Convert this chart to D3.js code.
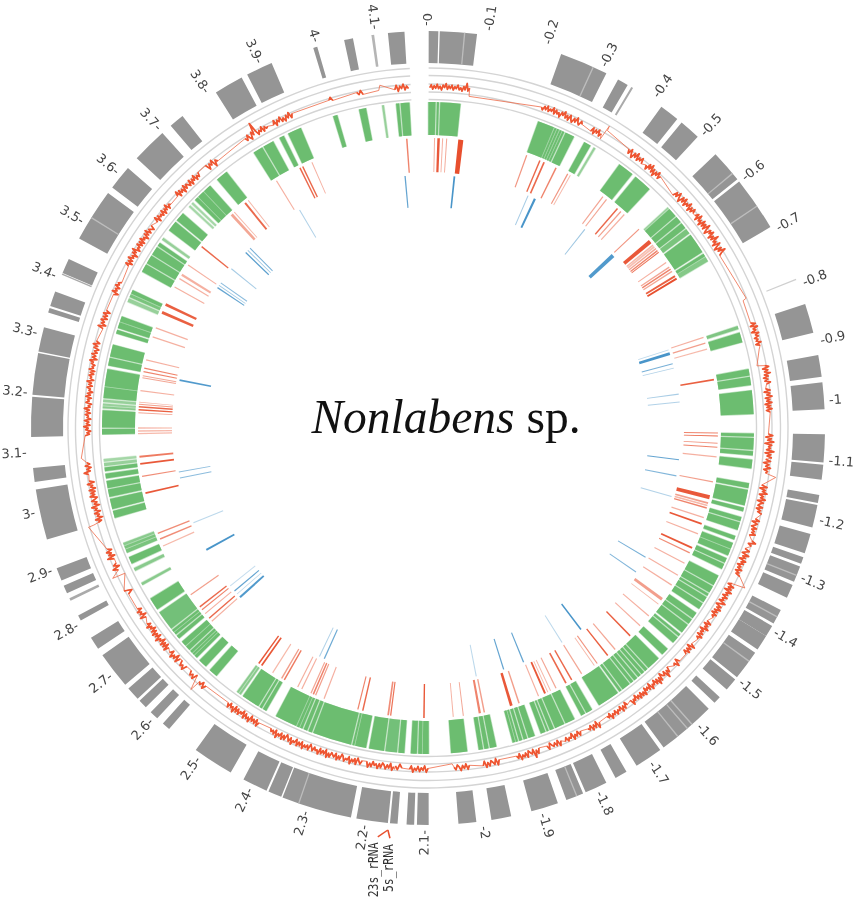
<!DOCTYPE html>
<html>
<head>
<meta charset="utf-8">
<title>Nonlabens sp.</title>
<script src="https://cdn.jsdelivr.net/npm/d3@7"></script>
<style>
  html, body { margin: 0; background: #fff; }
  svg { display: block; }
</style>
</head>
<body>
<svg id="chart" width="856" height="901"></svg>
<script>
// tick labels, position in Mb
const tickValues = d3.range(0, 42).map((d) => d / 10);
const genomeMb = 4.187;

const contigs = [[0.1,1.5],[1.7,7.1],[19.6,26.7],[28.6,30.2],[30.8,31.1,.8],[36,38.9],[39.7,42.8],[46.4,51.2],[51.6,59.6],
  [67.9,68.1,.45],[71.8,76.1],[79.4,82.6],[83.4,87.3],[90.9,95],[95.3,97.5],[99.7,100.9],[101.2,104.5],[105.5,108.4],
  [109,110],[110.4,112.8],[113.3,115.3],[117.3,119.5],[119.9,121.6],[121.6,123.9],[124.5,128.9],[129.3,131.2],
  [132.7,133.8],[135,143.6],[144.2,148.3],[150,151.8],[153.3,156.6],[157,159.6],[160.9,164.9],[167.9,170.8],
  [173,175.6],[179.9,181.6],[182,183.1],[184.4,185.5],[185.8,190.4],[191.2,201.5],[201.7,203.7],[204,207.7],
  [209.8,215.8],[220.7,221.9],[223,224.3],[225.3,226.6],[227,229],[229.7,235.1],[236.2,238.1],[241,241.8],
  [244.2,244.6,.8],[245.4,246.6],[247.4,249.3],[253.7,261.1],[262.2,264.2],[268.7,274.5],[274.8,280.9],[281.1,284.7],
  [286.9,287.6],[287.9,290.1],[292.7,292.9,.8],[293,295.2],[298.5,306.3],[307.3,310.9],[312.8,318],[319.6,321.8],
  [327.7,332],[332.9,336.8],[343.2,343.8],[347.8,349.1],[351.8,352.2,.7],[354.2,356.6]];
const contigHairlines = [5.3,24.6,50.1,56,118.4,111.8,126,138.3,139.2,141,158,199,302];

const genes = [[0.1,1.3],[1.6,1.9],[2.2,5.7],[19.8,22.7],[22.9,23.2],[23.4,23.7],[23.9,24.2],[24.4,24.7],[25,26.6],
  [28.7,29.9],[30.6,30.9,.6],[36,38.8],[39.6,42.8],[47.4,47.6,.6],[47.8,49.4],[49.7,50.8],[51.1,52.1],[52.4,53.3,.85],
  [53.7,57.3],[57.7,58.2],[58.4,59.2,.75],[71.8,72.3,.8],[73,74.7],[79.6,80.7],[81,82.4],[83.4,87.5],[91,91.5],
  [91.8,93.8],[94.1,94.8],[95.6,97.1],[99.8,100.6],[101,103.7],[104.2,104.8],[105.9,106.6],[106.9,108.2],[109.4,110],
  [110.7,111.7],[111.9,113],[113.6,114.4],[114.7,115.6],[117,118.8],[119.1,120.3],[120.6,121],[121.3,122.3],[122.6,123.7],
  [124.6,125.7],[126,126.9],[127.2,128.8],[129.3,129.7],[130,131.2],[132.7,134],[135,137.4],[137.7,138.2],[138.5,139],
  [139.3,139.8],[140.1,140.7],[141,141.5],[141.8,143.3],[143.6,144],[144.4,148.3],[149.8,150.9],[151.2,151.9],
  [153.3,155],[155.3,157],[157.3,158],[158.3,158.6],[158.9,159.7],[160.9,162],[162.3,162.9],[163.2,163.7],[164,164.3],
  [164.5,164.9],[167.9,169],[169.3,170],[170.3,171],[173.1,175.9],[179.9,180.9],[181.1,181.7],[182,183],[184.2,185.2],
  [185.5,187.5,.9],[187.8,190.4],[191,192.9],[193.1,193.4],[193.7,200.6],[200.9,201.5],[201.8,202.4],[202.7,203.1],
  [203.3,203.7],[203.9,207.8],[209.8,210.4],[210.7,211.1],[211.4,214.6],[215.1,215.4,.7],[215.6,215.9,.7],[220.5,222],
  [223,224.5],[225.2,225.7],[225.9,226.2],[226.4,226.8],[227.1,227.9],[228.1,229],[229.8,230.4],[230.7,231.1],[231.3,231.7],
  [232,235.5,.9],[236.2,238.4],[241.2,241.6,.7],[244,244.5,.7],[245.4,246.6],[247.5,248.1,.85],[248.3,248.7,.85],
  [248.9,249.3,.7],[254,255.2],[255.6,257.4],[257.8,259.1],[259.4,260.6],[261.1,261.9],[262.4,263],[263.3,263.8,.6],
  [264.1,264.5,.5],[268.9,269.8],[270.1,273.1],[273.5,273.8,.7],[274,274.3,.6],[274.6,275,.6],[275.3,277.2],[277.4,280.4],
  [281.1,282.4],[282.7,284.8],[286.9,287.5],[287.9,288.9],[289.1,290],[292.8,293.4,.6],[293.7,294.2,.85],[294.4,295],
  [298.7,300.1],[300.4,301.9],[302.2,303.7],[304,304.6],[305.3,305.7,.6],[307.4,309.2],[309.6,311.2],[312.8,313.1,.5],
  [313.5,313.8,.5],[314.4,315],[315.2,316.4],[316.6,318],[319.7,321.8],[327.7,329.4],[329.7,331.6],[332.9,333.7],
  [334.6,337],[343.1,343.8],[347.8,349],[351.9,352.2,.6],[354.4,354.9],[355.2,356.7]];

// position, width, tone
const redMarks = [[1.3,.2,.45],[2.1,.5,.95],[2.9,.2,.45],[3.7,.2,.5],[6.5,1,1],[19.9,.25,.6],[22.7,.3,.85],[23.6,.35,.85],
  [26.2,.3,.7],[28.8,.25,.6],[29.4,.2,.4],[37.1,.25,.5],[38,.25,.5],[40.8,.3,.85],[41.7,.25,.55],[42.6,.25,.45],[46.7,.25,.6],
  [50,.8,.95],[50.9,.3,.4],[51.3,.4,.35],[51.8,.3,.5],[52.3,.3,.7],[52.7,.2,.8],[55.2,.25,.45],[56.3,.3,.5],[56.8,.3,.7],
  [57.3,.3,.5],[58.4,.4,.9],[59,.4,1],[71.8,.25,.45],[73,.25,.55],[74.2,.25,.4],[80.4,.35,.9],[91,.2,.7],[91.6,.2,.85],
  [93,.2,.6],[93.8,.2,.7],[95.7,.25,.45],[100.7,.25,.55],[103.8,.8,.95],[105,.35,.55],[105.5,.35,.4],[106,.3,.7],[108,.25,.45],
  [109.3,.35,.95],[111.4,.25,.45],[114.4,.4,.95],[115.5,.25,.65],[117.8,.25,.45],[120.5,.25,.45],[122.8,.25,.45],
  [126.2,.6,.55],[127.4,.2,.4],[130.4,.25,.45],[133,.25,.45],[135.8,.3,.9],[139.8,.25,.5],[141.7,.3,.9],[144.3,.25,.6],
  [145,.2,.4],[148,.25,.5],[150.3,.3,.85],[151.6,.35,.85],[153.8,.25,.5],[155,.2,.4],[155.6,.2,.4],[156.2,.4,.95],
  [157.6,.25,.45],[161.7,.3,.55],[163.3,.55,.95],[168.8,.3,.55],[169.7,.45,.7],[173,.2,.5],[175,.2,.45],[180.8,.3,.95],
  [187.4,.25,.8],[187.9,.35,.65],[193,.3,.85],[194,.25,.7],[201,.25,.45],[202.8,.25,.55],[203.3,.3,.7],[203.8,.25,.5],
  [205.8,.25,.45],[206.7,.25,.45],[209.7,.3,.75],[210.3,.3,.55],[212.4,.25,.4],[215,.35,.95],[215.7,.3,.95],[228.2,.25,.45],
  [229,.3,.85],[230.2,.25,.45],[231.2,.25,.7],[231.9,.3,.85],[234.9,.25,.55],[246,.25,.4],[247.5,.3,.65],[248.7,.3,.65],
  [257,.35,.95],[260.4,.25,.65],[262.9,.35,.95],[264.3,.4,.75],[268.9,.25,.4],[269.4,.3,.4],[270,.25,.4],[273,.2,.5],
  [273.6,.3,.9],[274.2,.3,.85],[274.7,.2,.55],[275.1,.15,.45],[277.4,.25,.45],[280,.2,.5],[280.4,.2,.5],[281.2,.25,.7],
  [281.9,.25,.7],[283.6,.25,.45],[288.3,.25,.45],[290.2,.25,.45],[293.5,.55,.9],[295.2,.55,.9],[299.1,.25,.45],[301,.25,.45],
  [301.9,.45,.45],[304.2,.25,.45],[308.7,.3,.85],[317.4,.55,.5],[318.1,.2,.4],[320.9,.4,.85],[321.7,.2,.4],[328.5,.25,.45],
  [333.8,.3,.85],[334.4,.3,.85],[336.4,.2,.45],[355.8,.3,.7]];

const blueMarks = [[6,.4,.95],[23.3,.25,.45],[25,.5,.95],[38.3,.25,.5],[47,.9,.9],[72,.2,.35],[72.9,.65,.95],[75.3,.25,.7],
  [76.3,.2,.4],[82.3,.25,.45],[84.1,.25,.4],[97.2,.25,.8],[100.9,.25,.65],[105.7,.25,.4],[120.7,.25,.7],[124.7,.25,.65],
  [142.8,.35,.95],[148,.25,.35],[157.8,.3,.8],[162.6,.3,.8],[169,.25,.35],[204.2,.3,.75],[205.4,.25,.4],[228,.5,.9],
  [229,.2,.35],[229.9,.3,.8],[231.4,.25,.3],[241.2,.45,.95],[248,.25,.35],[258.6,.25,.6],[260,.25,.6],[280.9,.4,.9],
  [303.7,.3,.8],[304.3,.2,.5],[305,.25,.6],[309,.25,.45],[313.9,.3,.85],[314.6,.2,.5],[315.3,.25,.7],[329.5,.25,.4],[354.8,.3,.8]];

// coverage trace: one range and one list of read values per stretch
const traceRanges = [[0.3,7],[7.05,7.05],[19.5,26.9],[28.7,30.5],[30.8,30.9],[31,31.1],[35.8,38.9],[39.7,42.8],[46.4,51],[51.5,59.4],
  [67.8,68],[72,76],[76.6,76.6],[79.3,79.3],[79.5,82.6],[83.4,87.3],[91,95],[95.3,97.6],[98.1,98.1],[99.7,104.5],[105.5,108.4],
  [109.2,110.1],[110.8,115.5],[116.8,116.8],[117.1,123.6],[124.6,128],[129.3,131.2],[132.8,134],[135,143.4],[144.2,148.2],
  [149.8,152],[153.3,156.3],[157,159.5],[160.9,164.9],[167.9,170.7],[173,175.6],[175.9,175.9],[180,183.1],[184.4,185.5],[185.6,185.6],
  [185.8,190.4],[191.2,207.6],[209.8,216],[220.7,222],[222.2,222.2],[223,224.3],[225.3,226.6],[227,229],[229.7,235.1],[236.2,238.1],
  [241,241.8],[244.4,244.4],[244.5,244.5],[245.4,246.6],[247.4,249.3],[253.7,253.8],[254,261.1],[262.2,264.2],[265,265],
  [268.7,280.9],[281.1,284.7],[287,290.1],[293,295.4],[298.4,306.2],[307.3,311],[312.8,318],[319.7,321.8],[327.7,332],
  [333,336.6],[343.2,343.8],[348,349],[351.7,352],[354.4,356.7]];
const traceValues = [
  [38,47,33,44,36,49,35,43,31,47,39,52,34,45,37,48,33,44,38,50,35,42,32,47,37,58,34,44],[18],
  [38,30,44,34,48,32,42,36,50,31,46,35,41,28,47,38,52,33,44,30,49,36,29,45,34,51,37,31,46,38],
  [32,46,28,44,35,49,30,41],[26],[75,60],
  [48,36,54,40,30,50,38,56,34,47,39,52,35],[42,30,52,38,56,34,48,28,46,37,52,33,44],
  [30,46,34,52,38,28,50,36,54,32,46,39,55,31,48,36,52,40],
  [40,52,32,56,38,46,30,54,36,50,34,58,40,30,52,42,56,32,48,36,60,38,46,30,54,40,28,50,36,58,42,33],
  [48,36],
  [34,48,30,52,36,44,28,50,38,46,32,42,35,49,31,44],[38],[20],[44,56,36,52,40,58,38,50,34,47,37,54,41],
  [36,50,30,48,38,54,32,46,36,52,30,47,35,51,33,45],
  [38,52,30,48,36,56,28,50,40,46,34,58,30,49,37,53],[34,50,28,46,36,52,31,44,38],[72],
  [32,50,28,46,38,54,30,44,36,52,28,48,38,33,49,30,45,37,51],[36,50,28,46,40,30,48,34,44,37,50,32],[46,60,38,50],
  [34,50,40,30,54,36,46,28,52,38,48,30,44,35,51,32,46,38,54],[84],
  [42,30,52,36,48,28,54,38,46,32,50,36,44,30,54,40,28,48,36,52,33,46,30,49,37,44],
  [34,50,30,46,38,54,28,44,36,48,32,52,37,45],[38,54,30,48,36,51,33,46],[46,32,54,38,44],
  [30,46,36,58,32,44,40,28,50,36,56,34,48,30,44,38,52,28,46,34,42,30,52,38,48,33,50,36,46,29,44,37,53,34],
  [40,28,46,34,50,30,42,36,48,32,44,37,51,30,43,35],[38,54,30,48,36,51,33,45,39],[34,46,30,44,36,50,28,42,37,47,33,44],
  [36,50,30,46,34,44,38,29,48,35],
  [32,48,36,58,30,44,38,30,50,34,46,38,52,31,45,36],[34,50,28,46,38,32,48,36,51,30,44],[36,48,30,44,34,50,38,31,46,37],[26],
  [38,50,30,44,36,48,32,45,38,51,31,42],[40,28,46,35],[46],
  [38,50,28,44,34,48,36,30,46,34,50,36,42,30,47,37,51,33],
  [34,46,38,28,50,32,44,36,52,30,42,38,48,34,28,46,36,50,30,44,38,32,48,36,52,28,44,34,46,30,50,38,42,32,46,36,28,48,34,44,
   37,51,30,45,35,49,29,43,38,52,32,46,36,28,47,34,50,31,44,37,53,30,46,35,42,33],
  [36,50,30,46,34,44,28,52,38,46,32,50,28,42,36,49,33,47,30,53,37,44,31,48,35],[38,52,34,47,40],[78],
  [30,50,38,46,33],[34,52,40,47,31],[32,50,28,46,38,52,31,44],[36,52,30,48,34,50,28,44,38,54,30,46,36,51,33,47,29,44,37,52,34,45],
  [34,52,28,46,38,50,32,44],
  [44,28,52],[24],[66],[38,54,30,47,36],[36,56,30,48,38,52,33,46],[80,62],
  [46,34,52,28,44,36,50,30,46,38,54,28,44,34,50,38,30,52,36,47,33,51,30,44,37,53,31,46],[44,58,38,48,34,52,37,46],[62],
  [46,32,40,28,44,36,50,30,42,34,48,28,40,36,46,30,44,34,50,32,38,28,46,36,42,30,48,34,44,28,40,36,47,31,43,35,50,29,41,37,
   46,32,44,30,49,36,41,33,47],
  [38,52,30,46,36,50,34,44,31,48,37,53,33,45],[36,54,30,46,38,51,32,47,35,50,30,44],[42,28,50,36,44,31,48,37,43,33],
  [38,50,30,46,34,52,36,44,28,48,38,54,30,42,36,50,33,47,31,51,37,44,29,48,35,52,33,45,38,31,46],
  [36,52,30,48,38,44,34,50,31,46,37,53,33,45,39],[40,54,32,50,38,46,30,52,36,48,42,34,51,31,47,38,53,33,45,36,49],
  [50,30,46,38,52,26,44,36],
  [44,34,50,38,30,52,40,78,46,32,44,37,51,33,46,38,42],[36,50,30,46,38,52,34,44,31,48,37,53,33,45],[44,52,40],[46,38,50,36],[40,56],
  [36,50,30,46,38,52,33,45,37]
];

const trackTitle = "Nonlabens";
const rRnaLabels = ["23s_rRNA", "5s_rRNA"];
const rRnaGene = [185.7, 185.7];
const rRnaAnchor = [187, 185.3];
const rRnaText = [187.5, 185.5];

// ---- drawing
const svg = d3.select("#chart");
const root = svg.append("g").attr("transform", "translate(428,428)");

const rad = d3.scaleLinear().domain([0, 360]).range([0, 2 * Math.PI]);
const tickDeg = d3.scaleLinear().domain([0, genomeMb]).range([0, 360]);
const traceR = d3.scaleLinear().domain([0, 100]).range([328.5, 360]);

const arc = d3.arc();
const wedge = (r0, r1, a0, a1) => arc({
  innerRadius: r0, outerRadius: r1, startAngle: rad(a0), endAngle: rad(a1)
});

const defs = root.append("defs");
defs.append("filter").attr("id", "soft").append("feGaussianBlur").attr("stdDeviation", 0.4);
defs.append("filter").attr("id", "softer").append("feGaussianBlur").attr("stdDeviation", 0.25);
const marks = root.append("g").attr("filter", "url(#soft)");

// rings
marks.append("g").selectAll("path").data([360, 352.5, 344, 336, 328.5]).join("path")
  .attr("d", (r) => wedge(r - 0.7, r + 0.7, 0.1, 357.1))
  .attr("fill", "#d4d4d4");

// contigs
marks.append("g").selectAll("path").data(contigs).join("path")
  .attr("d", (d) => wedge(365, 397, d[0], d[1]))
  .attr("fill", "#959595")
  .attr("opacity", (d) => d[2] || 1);
marks.append("g").selectAll("path").data(contigHairlines).join("path")
  .attr("d", (d) => wedge(365, 397, d - 0.1, d + 0.1))
  .attr("fill", "#bdbdbd");

// trace: thin links between stretches, heavier over the noisy stretches
const tracePoints = [];
const stretches = [];
traceRanges.forEach((range, i) => {
  const vals = traceValues[i];
  const at = d3.scaleLinear().domain([0, Math.max(1, vals.length - 1)]).range(range);
  const pts = vals.map((v, j) => [rad(at(j)), traceR(v)]);
  tracePoints.push(...pts);
  if (pts.length > 2) stretches.push(pts);
});
const radial = d3.lineRadial();
marks.append("path")
  .attr("d", radial(tracePoints))
  .attr("fill", "none")
  .attr("stroke", "#ee6a48")
  .attr("stroke-width", 0.8)
  .attr("stroke-linejoin", "round");
marks.append("g").selectAll("path").data(stretches).join("path")
  .attr("d", (d) => radial(d))
  .attr("fill", "none")
  .attr("stroke", "#ee5530")
  .attr("stroke-width", 1.7)
  .attr("stroke-linejoin", "round");

// genes: a pale wash under each block turns the thin gaps into the pale hairlines of the picture
marks.append("g").selectAll("path").data(genes).join("path")
  .attr("d", (d) => wedge(293, 326, d[0] - 0.15, d[1] + 0.15))
  .attr("fill", "#6cbd70")
  .attr("opacity", (d) => (d[2] || 1) * 0.45);
marks.append("g").selectAll("path").data(genes).join("path")
  .attr("d", (d) => wedge(293, 326, d[0] - 0.03, d[1] + 0.03))
  .attr("fill", "#6cbd70")
  .attr("opacity", (d) => d[2] || 1);

// red and blue tracks
marks.append("g").selectAll("path").data(redMarks).join("path")
  .attr("d", (d) => wedge(256, 290, d[0] - d[1] / 2, d[0] + d[1] / 2))
  .attr("fill", "#e8502e")
  .attr("opacity", (d) => d[2]);
marks.append("g").selectAll("path").data(blueMarks).join("path")
  .attr("d", (d) => wedge(221, 253, d[0] - d[1] / 2, d[0] + d[1] / 2))
  .attr("fill", "#3f8fc6")
  .attr("opacity", (d) => d[2]);

// tick labels
root.append("g").attr("filter", "url(#softer)")
  .selectAll("text").data(tickValues).join("text")
  .attr("transform", (v) => {
    const a = v === 0 ? 360 : tickDeg(v);
    return a < 180
      ? `rotate(${a - 90}) translate(402,0)`
      : `rotate(${a - 90}) translate(402,0) rotate(180)`;
  })
  .attr("text-anchor", (v) => (v > 0 && tickDeg(v) < 180 ? "start" : "end"))
  .attr("dy", "0.35em")
  .attr("font-family", "DejaVu Sans, sans-serif")
  .attr("font-size", 13)
  .attr("fill", "#444")
  .text((v) => (v > 0 && tickDeg(v) < 180 ? "-" + v : v + "-"));

// rRNA connectors and labels
const polar = (deg, r) => d3.pointRadial(rad(deg), r);
rRnaLabels.forEach((name, i) => {
  root.append("path")
    .attr("d", d3.line()([polar(rRnaGene[i], 404), polar(rRnaAnchor[i], 412)]))
    .attr("fill", "none").attr("stroke", "#e8502e").attr("stroke-width", 1.5);
  const [x, y] = polar(rRnaText[i], 418);
  root.append("text")
    .attr("transform", `translate(${x},${y}) rotate(-90) scale(1,1.2)`)
    .attr("text-anchor", "end").attr("dy", "0.35em")
    .attr("font-family", "DejaVu Sans Mono, monospace")
    .attr("font-size", 11.4).attr("fill", "#333")
    .text(name);
});

// title
const title = svg.append("text")
  .attr("x", 446).attr("y", 433).attr("text-anchor", "middle")
  .attr("font-family", "Liberation Serif, serif")
  .attr("font-size", 47.5).attr("fill", "#111");
title.append("tspan").attr("font-style", "italic").text(trackTitle);
title.append("tspan").text(" sp.");
</script>
</body>
</html>
